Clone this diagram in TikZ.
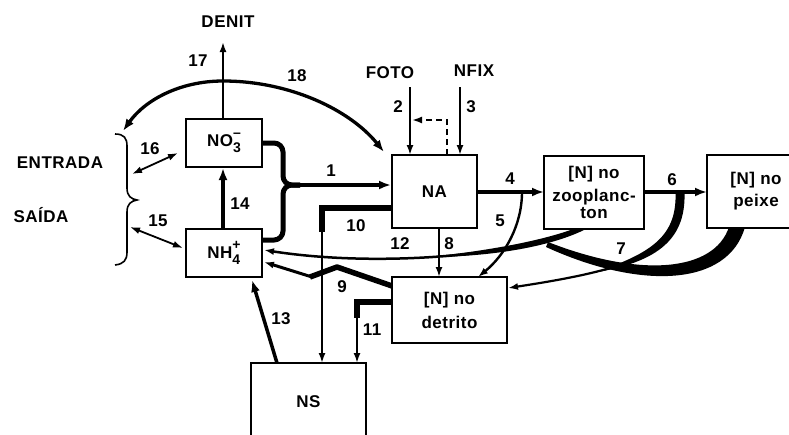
\documentclass[tikz,border=0pt]{standalone}
\usepackage{fontspec}
\setmainfont{Liberation Sans}[LetterSpace=3]
\usetikzlibrary{arrows.meta}
\begin{document}
\begin{tikzpicture}[x=1pt,y=-1pt,
  every node/.style={font=\fontsize{17}{20}\selectfont\bfseries},
  box/.style={draw,line width=1.8pt,fill=white,inner sep=0pt,align=center},
  tip/.style={-{Latex[length=10pt,width=7pt]}},
  bigtip/.style={-{Latex[length=12pt,width=9pt]}},
  flow/.style={line width=2pt,tip},
  thickflow/.style={line width=3.5pt,bigtip},
  dbl/.style={line width=1.8pt,{Latex[length=10pt,width=7pt]}-{Latex[length=10pt,width=7pt]}},
  lbl/.style={inner sep=0pt}]
\clip (0,0) rectangle (789,434);
\fill[white] (0,0) rectangle (789,434);

% ---- connectors ----
% 18 arc
\draw[line width=3.3pt,{Latex[length=12pt,width=9pt]}-{Latex[length=12pt,width=9pt]}]
  (123,131) .. controls (145,100) and (180,81) .. (223,81)
  .. controls (290,81) and (350,110) .. (384,152);
% 17
\draw[flow] (223,119) -- (223,42);
% 14
\draw[thickflow] (223,229) -- (223,168);
% 16, 15
\draw[dbl] (132,174) -- (178,153);
\draw[dbl] (130,227) -- (183,248);
% 1
\draw[line width=5pt,rounded corners=9pt] (258,143) -- (283,143) -- (283,185) -- (300,185);
\draw[line width=5pt,rounded corners=9pt] (258,240) -- (283,240) -- (283,185) -- (300,185);
\draw[thickflow] (295,185) -- (391,185);
% FOTO / NFIX
\draw[flow] (410,87) -- (410,155);
\draw[flow] (460,87) -- (460,155);
\draw[line width=1.8pt,dash pattern=on 6pt off 4pt,tip] (447,155) -- (447,120) -- (412,120);
% 4, 6
\draw[thickflow] (477,192) -- (544,192);
\draw[line width=4pt,bigtip] (644,192) -- (707,192);
% 5
\draw[line width=2.4pt,tip] (522,192) .. controls (522,225) and (505,255) .. (478,277);
% 8
\draw[flow] (439,228) -- (439,277);
% 7
\fill (675.5,192) .. controls (677,234) and (655,253) .. (592,273)
  .. controls (661,262) and (686,237) .. (684.5,192) -- cycle;
\draw[line width=2.2pt,tip] (680,192) .. controls (682,250) and (640,268) .. (508,288);
% 12 (from zoo and fish)
\fill (745,227) .. controls (728,287) and (640,290) .. (546,247)
  -- (548,242) .. controls (640,278) and (714,272) .. (729,227) -- cycle;
\fill (576,228) .. controls (545,240) and (489,251) .. (426,257.1)
  .. controls (490,257) and (549,247) .. (584,230) -- cycle;
\draw[line width=2.5pt,tip] (580,229) .. controls (520,255) and (380,268) .. (264,250);
% 9
\draw[line width=5.5pt,line join=round] (395,287) -- (337,267) -- (310,277);
\draw[line width=3pt,tip] (312,277) -- (264,262);
% 10
\draw[line width=6.5pt] (395,208) -- (322,208) -- (322,232);
\draw[line width=2.4pt,tip] (322,225) -- (322,363);
% 11
\draw[line width=6.5pt] (395,302) -- (357,302) -- (357,318);
\draw[line width=2.6pt,tip] (357,312) -- (357,363);
% 13
\draw[thickflow] (277,363) -- (252,280);
% brace
\draw[line width=1.6pt] (115,134) .. controls (124,134) and (127,138) .. (127,146) -- (127,188)
  .. controls (127,196) and (131,199) .. (137,200)
  .. controls (131,201) and (127,204) .. (127,212) -- (127,252)
  .. controls (127,260) and (124,264) .. (115,265);

% ---- boxes ----
\node[box,minimum width=76pt,minimum height=48pt] (no3) at (224,143)
  {NO{\fontsize{14}{14}\selectfont\rlap{\raisebox{-6pt}{3}}\raisebox{9pt}{–}}};
\node[box,minimum width=76pt,minimum height=48pt] (nh4) at (224,253)
  {NH{\fontsize{14}{14}\selectfont\rlap{\raisebox{-6pt}{4}}\raisebox{9pt}{+}}};
\node[box,minimum width=85pt,minimum height=73pt] (na) at (434.5,191.5) {NA};
\node[box,minimum width=100pt,minimum height=73pt] (zoo) at (594,192.5)
  {[N] no\\[3pt]zooplanc-\\[-3pt]ton};
\node[box,minimum width=98pt,minimum height=73pt] (pei) at (756,191.5) {[N] no\\[2pt]peixe};
\node[box,minimum width=115pt,minimum height=66pt] (det) at (449.5,310) {[N] no\\[4pt]detrito};
\node[box,minimum width=115pt,minimum height=77pt] (ns) at (308.5,401.5) {NS};

% ---- texts ----
\node[lbl] (denit) at (228,22) {DENIT};
\node[lbl] (foto) at (390,73) {FOTO};
\node[lbl] (nfix) at (474,71) {NFIX};
\node[lbl] (entrada) at (60,163) {ENTRADA};
\node[lbl] (saida) at (41,215) {SAÍDA};
\node[lbl] (n1) at (331,171) {1};
\node[lbl] (n2) at (398,107) {2};
\node[lbl] (n3) at (471,107) {3};
\node[lbl] (n4) at (510,179) {4};
\node[lbl] (n5) at (500,221) {5};
\node[lbl] (n6) at (672,180) {6};
\node[lbl] (n7) at (621,249) {7};
\node[lbl] (n8) at (449,244) {8};
\node[lbl] (n9) at (342,287) {9};
\node[lbl] (n10) at (356,226) {10};
\node[lbl] (n11) at (372,330) {11};
\node[lbl] (n12) at (400,244) {12};
\node[lbl] (n13) at (281,319) {13};
\node[lbl] (n14) at (240,204) {14};
\node[lbl] (n15) at (158,221) {15};
\node[lbl] (n16) at (150,149) {16};
\node[lbl] (n17) at (198,61) {17};
\node[lbl] (n18) at (297,76) {18};
\end{tikzpicture}
\end{document}
